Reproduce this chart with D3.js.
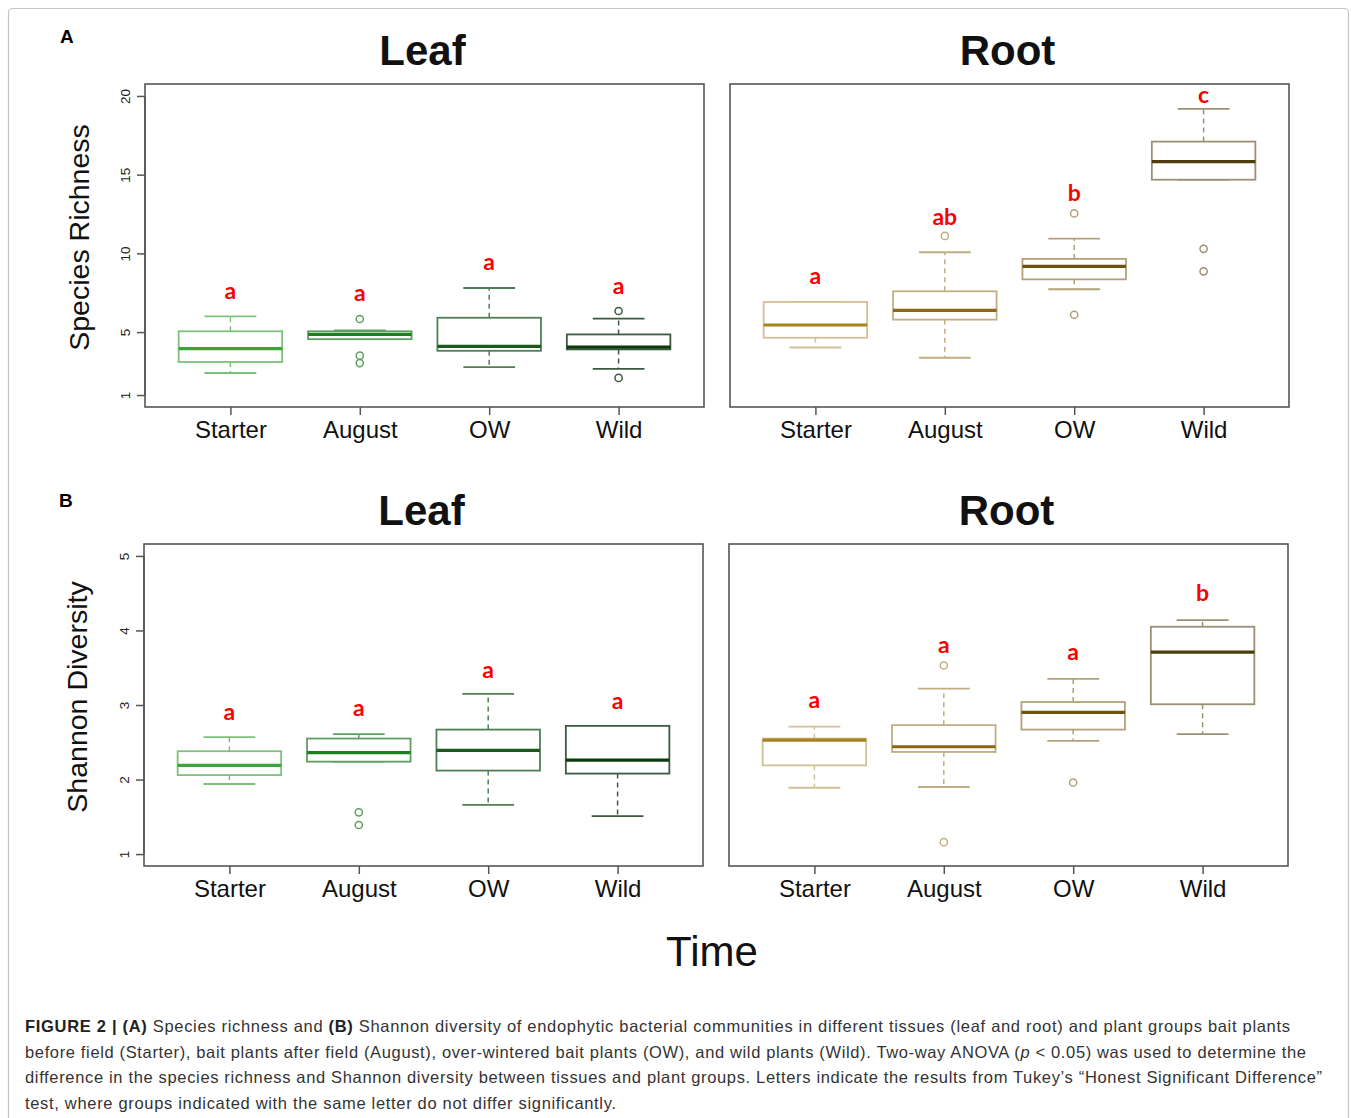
<!DOCTYPE html>
<html>
<head>
<meta charset="utf-8">
<script src="https://cdn.jsdelivr.net/npm/d3@7"></script>
<style>
  body { margin: 0; background: #fff; }
  svg { display: block; font-family: "Liberation Sans", Arial, sans-serif; }
  .frame { fill: none; stroke: #555; stroke-width: 1.6; }
  .whisk { stroke-dasharray: 5,4; }
  .letter { font-family: Lato, "Open Sans", sans-serif; font-weight: bold; fill: #ff0000; font-size: 23px; text-anchor: middle; }
</style>
</head>
<body>
<svg id="fig" width="1357" height="1118"></svg>
<script>
// groups on the x axis
const groups = ['Starter', 'August', 'OW', 'Wild'];

// box stats: [lower whisker, Q1, median, Q3, upper whisker]
const leafRichness = [[2.4, 3.1, 3.95, 5.05, 6.0], [4.55, 4.55, 4.85, 5.05, 5.1], [2.77, 3.81, 4.09, 5.91, 7.8], [2.66, 3.9, 4.04, 4.85, 5.85]];
const leafRichnessOut = [[], [5.83, 3.5, 3.03], [], [6.34, 2.09]];
const leafRichnessLetters = ['a', 'a', 'a', 'a'];
const leafRichnessLetterY = [7.6, 7.5, 9.5, 7.95];

const rootRichness = [[4.02, 4.64, 5.45, 6.91, 6.91], [3.37, 5.79, 6.38, 7.59, 10.07], [7.72, 8.35, 9.18, 9.65, 10.94], [14.68, 14.68, 15.83, 17.1, 19.18]];
const rootRichnessOut = [[], [11.11], [12.54, 6.1], [10.29, 8.86]];
const rootRichnessLetters = ['a', 'ab', 'b', 'c'];
const rootRichnessLetterY = [8.6, 12.3, 13.85, 20.05];

const leafShannon = [[1.94, 2.06, 2.19, 2.38, 2.57], [2.24, 2.24, 2.36, 2.55, 2.61], [1.66, 2.12, 2.39, 2.67, 3.15], [1.51, 2.08, 2.26, 2.72, 2.72]];
const leafShannonOut = [[], [1.56, 1.39], [], []];
const leafShannonLetters = ['a', 'a', 'a', 'a'];
const leafShannonLetterY = [2.91, 2.96, 3.48, 3.06];

const rootShannon = [[1.89, 2.19, 2.53, 2.55, 2.71], [1.9, 2.37, 2.44, 2.73, 3.22], [2.52, 2.67, 2.9, 3.04, 3.35], [2.61, 3.01, 3.71, 4.05, 4.14]];
const rootShannonOut = [[], [3.53, 1.16], [1.96], []];
const rootShannonLetters = ['a', 'a', 'a', 'b'];
const rootShannonLetterY = [3.07, 3.81, 3.71, 4.5];

const richnessTicks = [1, 5, 10, 15, 20];
const shannonTicks = [1, 2, 3, 4, 5];

// colours per group (border, median)
const leafBorder = ['#7cc17c', '#5f9f5f', '#4f7f55', '#3c5a40'];
const leafMedian = ['#3aa53a', '#1f7f1f', '#1a5a1a', '#0b3a0b'];
const rootBorder = ['#d2c096', '#c2ae82', '#b2a27a', '#9c8f74'];
const rootMedian = ['#a8821e', '#8c6612', '#6e520c', '#4e3c0c'];

const svg = d3.select('#fig');

// outer frame
svg.append('rect').attr('x', 8.5).attr('y', 8.5).attr('width', 1340).attr('height', 1130)
  .attr('rx', 4).attr('fill', 'none').attr('stroke', '#c4c4c4').attr('stroke-width', 1.2);

function drawPanel(opt) {
  const g = svg.append('g');
  const x = d3.scaleLinear().domain([0.34, 4.66]).range([opt.x0, opt.x1]);
  const y = d3.scaleLinear().domain(opt.domain).range([opt.y1, opt.y0]);
  const bw = (x(1.4) - x(1)) ;   // half box width (0.4)
  const cw = (x(1.2) - x(1));    // half cap width

  opt.stats.forEach((s, i) => {
    const cx = x(i + 1);
    const col = opt.border[i];
    // whiskers
    g.append('line').attr('class', 'whisk').attr('x1', cx).attr('x2', cx)
      .attr('y1', y(s[3])).attr('y2', y(s[4])).attr('stroke', col).attr('stroke-width', 1.5);
    g.append('line').attr('class', 'whisk').attr('x1', cx).attr('x2', cx)
      .attr('y1', y(s[1])).attr('y2', y(s[0])).attr('stroke', col).attr('stroke-width', 1.5);
    [s[0], s[4]].forEach(v => {
      g.append('line').attr('x1', cx - cw).attr('x2', cx + cw).attr('y1', y(v)).attr('y2', y(v))
        .attr('stroke', col).attr('stroke-width', 1.8);
    });
    g.append('rect').attr('x', cx - bw).attr('width', 2 * bw)
      .attr('y', y(s[3])).attr('height', y(s[1]) - y(s[3]))
      .attr('fill', '#fff').attr('stroke', col).attr('stroke-width', 1.8);
    g.append('line').attr('x1', cx - bw).attr('x2', cx + bw).attr('y1', y(s[2])).attr('y2', y(s[2]))
      .attr('stroke', opt.median[i]).attr('stroke-width', 3.2);
    opt.out[i].forEach(v => {
      g.append('circle').attr('cx', cx).attr('cy', y(v)).attr('r', 3.6)
        .attr('fill', 'none').attr('stroke', col).attr('stroke-width', 1.5);
    });
    g.append('text').attr('class', 'letter').attr('x', cx).attr('y', y(opt.letterY[i]))
      .attr('dy', '0.36em').text(opt.letters[i]);
  });

  // plot frame
  g.append('rect').attr('class', 'frame').attr('x', opt.x0).attr('y', opt.y0)
    .attr('width', opt.x1 - opt.x0).attr('height', opt.y1 - opt.y0);

  // x axis
  const xa = g.append('g').attr('transform', `translate(0,${opt.y1})`)
    .call(d3.axisBottom(x).tickValues([1, 2, 3, 4]).tickFormat((d, i) => groups[i]).tickSize(8).tickPadding(6));
  xa.select('.domain').remove();
  xa.selectAll('line').attr('stroke', '#555').attr('stroke-width', 1.5);
  xa.selectAll('text').attr('font-size', 24).attr('fill', '#111').attr('font-family', '"Liberation Sans", Arial, sans-serif');

  // y axis only on leaf panels
  if (opt.ticks) {
    const ya = g.append('g').attr('transform', `translate(${opt.x0},0)`)
      .call(d3.axisLeft(y).tickValues(opt.ticks).tickFormat(d3.format('d')).tickSize(8).tickPadding(4));
    ya.select('.domain').attr('d', `M0,${y(opt.ticks[0])}V${y(opt.ticks[opt.ticks.length - 1])}`)
      .attr('stroke', '#555').attr('stroke-width', 1.5);
    ya.selectAll('line').attr('stroke', '#555').attr('stroke-width', 1.5);
    ya.selectAll('.tick text').attr('font-size', 13.5).attr('fill', '#222')
      .attr('font-family', '"Liberation Sans", Arial, sans-serif')
      .attr('transform', 'rotate(-90)').attr('x', 0).attr('dy', 0).attr('y', -15)
      .attr('text-anchor', 'middle');
    svg.append('text').attr('transform', `translate(${opt.labelX},${(opt.y0 + opt.y1) / 2 - 8}) rotate(-90)`)
      .attr('text-anchor', 'middle').attr('font-size', 28.5).attr('fill', '#111').text(opt.ylabel);
  }

  svg.append('text').attr('x', (opt.x0 + opt.x1) / 2 - 2).attr('y', opt.y0 - 19)
    .attr('text-anchor', 'middle').attr('font-size', 42).attr('font-weight', 'bold').attr('fill', '#111')
    .text(opt.title);
}

drawPanel({ x0: 145, x1: 704, y0: 84, y1: 407, domain: [0.24, 20.76], stats: leafRichness, out: leafRichnessOut,
  letters: leafRichnessLetters, letterY: leafRichnessLetterY, border: leafBorder, median: leafMedian,
  ticks: richnessTicks, ylabel: 'Species Richness', labelX: 89, title: 'Leaf' });
drawPanel({ x0: 730, x1: 1289, y0: 84, y1: 407, domain: [0.24, 20.76], stats: rootRichness, out: rootRichnessOut,
  letters: rootRichnessLetters, letterY: rootRichnessLetterY, border: rootBorder, median: rootMedian,
  title: 'Root' });
drawPanel({ x0: 144, x1: 703, y0: 544, y1: 866, domain: [0.84, 5.16], stats: leafShannon, out: leafShannonOut,
  letters: leafShannonLetters, letterY: leafShannonLetterY, border: leafBorder, median: leafMedian,
  ticks: shannonTicks, ylabel: 'Shannon Diversity', labelX: 87, title: 'Leaf' });
drawPanel({ x0: 729, x1: 1288, y0: 544, y1: 866, domain: [0.84, 5.16], stats: rootShannon, out: rootShannonOut,
  letters: rootShannonLetters, letterY: rootShannonLetterY, border: rootBorder, median: rootMedian,
  title: 'Root' });

// panel letters
svg.append('text').attr('x', 60).attr('y', 43).attr('font-size', 19).attr('font-weight', 'bold').text('A');
svg.append('text').attr('x', 59).attr('y', 507).attr('font-size', 19).attr('font-weight', 'bold').text('B');

// shared x label
svg.append('text').attr('x', 712).attr('y', 966).attr('text-anchor', 'middle').attr('font-size', 42)
  .attr('fill', '#111').text('Time');

// caption
const capLines = [
  [['b', 'FIGURE 2 | (A)'], ['n', ' Species richness and '], ['b', '(B)'], ['n', ' Shannon diversity of endophytic bacterial communities in different tissues (leaf and root) and plant groups bait plants']],
  [['n', 'before field (Starter), bait plants after field (August), over-wintered bait plants (OW), and wild plants (Wild). Two-way ANOVA ('], ['i', 'p'], ['n', ' < 0.05) was used to determine the']],
  [['n', 'difference in the species richness and Shannon diversity between tissues and plant groups. Letters indicate the results from Tukey\u2019s \u201cHonest Significant Difference\u201d']],
  [['n', 'test, where groups indicated with the same letter do not differ significantly.']]
];
const capWidths = [1265, 1281, 1297, 591];
capLines.forEach((line, i) => {
  const t = svg.append('text').attr('x', 25).attr('y', 1032 + i * 25.5).attr('font-size', 16.5).attr('fill', '#333')
    .attr('textLength', capWidths[i]).attr('lengthAdjust', 'spacing');
  line.forEach(p => {
    const sp = t.append('tspan').text(p[1]);
    if (p[0] === 'b') sp.attr('font-weight', 'bold').attr('fill', '#222');
    if (p[0] === 'i') sp.attr('font-style', 'italic');
  });
});
</script>
</body>
</html>
